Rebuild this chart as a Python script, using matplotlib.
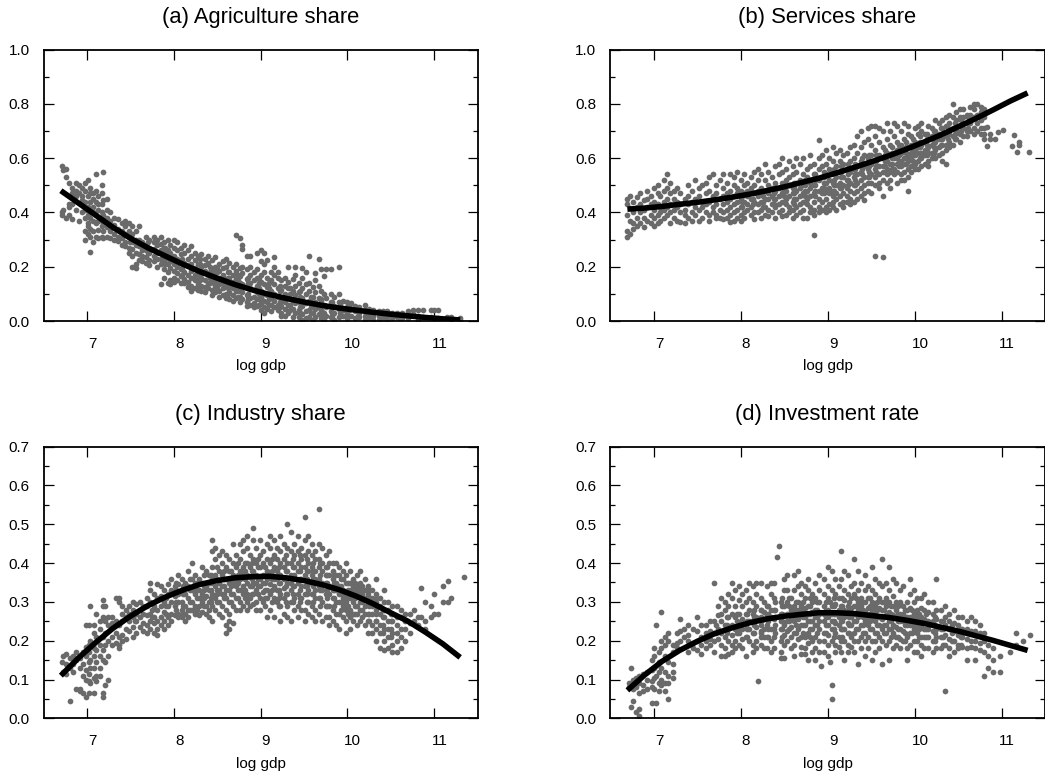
import matplotlib
matplotlib.use("Agg")
import matplotlib.pyplot as plt
from matplotlib.ticker import MultipleLocator
from matplotlib.transforms import ScaledTranslation

plt.rcParams['font.family'] = ['Liberation Sans', 'DejaVu Sans']

titles = ["(a) Agriculture share", "(b) Services share", "(c) Industry share", "(d) Investment rate"]
xticks = [7, 8, 9, 10, 11]
curve_x = [6.7, 6.9, 7.1, 7.3, 7.5, 7.7, 7.9, 8.1, 8.3, 8.5, 8.7, 8.9, 9.1, 9.3, 9.5, 9.7, 9.9, 10.1, 10.3, 10.5, 10.7, 10.9, 11.1, 11.3]
curve_a = [.48, .435, .39, .345, .305, .27, .24, .21, .182, .158, .135, .115, .098, .083, .07, .058, .048, .04, .032, .025, .019, .013, .008, .004]
curve_b = [.412, .416, .422, .43, .437, .446, .456, .467, .48, .494, .51, .526, .545, .565, .586, .608, .632, .658, .685, .715, .745, .777, .81, .84]
curve_c = [.11, .155, .195, .232, .263, .29, .312, .33, .345, .355, .362, .365, .366, .362, .355, .345, .332, .315, .295, .272, .25, .222, .192, .157]
curve_d = [.072, .112, .147, .175, .198, .218, .233, .246, .256, .263, .268, .272, .272, .27, .265, .26, .253, .245, .235, .225, .213, .201, .188, .175]

# observations: (log gdp, [shares in percent])
agri_pts = [
(6.71,[57,40,39]),(6.73,[55.5,41]),(6.76,[56,53,38]),(6.79,[51,43,42,39]),(6.83,[49,47,43,37.5]),(6.87,[51,48,46,41]),(6.91,[50,47,37]),(6.94,[49,46,44.5,40]),
(6.98,[51,48,44,41,38,33,30]),(7.01,[52,46,42,39,36,35,32]),(7.04,[49,47,44,38,34,31,25.5]),(7.07,[47,45,42,40,37,33,29]),(7.1,[54,48,44,39,36,31]),
(7.13,[46,43,41,37,33.5,30.5]),(7.17,[50,47,43,40,38,35,31]),(7.19,[55,44.5,39,36,33,30.5]),(7.23,[45,41,38,34.5,31]),(7.27,[40,37,33,30.5]),(7.31,[38,35.5,32,30]),
(7.36,[37.5,34,31,29.5]),(7.4,[36,33,30.5,28]),(7.44,[37,35,32,29,27.5]),(7.48,[36,33,31,27,25]),(7.52,[35,32,29,26.5,24,20]),(7.56,[33,30,28,25,21,19.5]),
(7.6,[35,30,27.5,24.5,22.5]),(7.64,[29,26,24,22]),(7.68,[31,28,26,23.5,21.5]),(7.72,[30,27,25,22.5,20.5]),(7.77,[31,29,26.5,24,22]),(7.81,[30,28,25,23,20]),
(7.85,[31,28.5,26,23,21,13.5]),(7.89,[29,27,24.5,22,19,16]),(7.93,[30,26,23.5,21,18,14]),(7.96,[28,25,22,19.5,15,13.5]),(8.0,[30,27,24,21,18.5,16,14.5]),
(8.04,[29,26,23,20,17.5,15]),(8.08,[27,24.5,22,19,16.5,14]),(8.12,[28,25,21.5,18,15.5,14]),(8.16,[26,23,20.5,17,14.5,12.5]),(8.2,[27.5,24,21,18.5,16,13,11]),
(8.24,[25,22.5,19.5,17,15,12]),(8.28,[24,21,18,15.5,13.5,11.5]),(8.32,[24.5,20,17.5,16,13,11]),(8.36,[23,20.5,18.5,15,12.5,10.5]),(8.4,[24,21.5,17,14,12]),
(8.44,[22.5,19,16.5,14.5,11.5,9.5]),(8.48,[23.5,20,18,15,13,10.5]),(8.52,[21,18.5,16,13.5,11,9]),(8.57,[22,19.5,17,14,12,9.5]),(8.6,[23,20,15.5,13,10,8.5]),
(8.64,[21.5,18,16,12.5,10.5,8]),(8.68,[20,17,14.5,12,9.5,7.5]),(8.72,[31.5,21,18.5,15.5,13,11,8.5]),(8.76,[30.5,19.5,16.5,14,11,9,7]),(8.79,[28,26.5,20,17.5,13.5,10.5,8]),
(8.84,[24,19,15.5,13,9.5,7,5.5]),(8.88,[24,20,17,14,12,8.5,6]),(8.92,[18,15,11.5,9,6.5,5]),(8.96,[25,19,16,13,10.5,8,5.5]),(9.0,[26,22,17,14.5,11,8.5,6.5,4]),
(9.04,[25,21,18,13.5,10,7.5,5,3]),(9.08,[22.5,16,12.5,9.5,7,4.5]),(9.12,[18,15,11,8.5,6,3.5]),(9.16,[23.5,20,17,13.5,10,7.5,5]),(9.2,[18,16,12,9,6,4]),
(9.24,[15,11.5,8,5.5,3,2]),(9.28,[16,13,10,7,4.5,2]),(9.32,[20,14.5,12,8.5,6,3]),(9.37,[15.5,11,7.5,4.5,1.5]),(9.4,[20,17,13,9.5,6.5,3]),(9.44,[14,10.5,7,4,1.5]),
(9.48,[19.5,16,12,8.5,5.5,2.5,.5]),(9.52,[18,13.5,10,6.5,3.5,1]),(9.56,[24,14,11,7.5,4,1.5]),(9.6,[12.5,9,6,3,.5]),(9.63,[17.5,15,10.5,7,4.5,1.5]),(9.67,[23,13,8.5,5,2.5]),
(9.7,[19,11,7.5,4,1]),(9.73,[16.5,10,6,3,.5]),(9.76,[19,8.5,5,2]),(9.81,[19,10,7,3.5,1.5]),(9.85,[9,5.5,3,.5]),(9.9,[20,10,7,4.5,1.5]),(9.95,[7.5,4,2]),
(10.0,[7,5,3,1]),(10.04,[6.5,4.5,2]),(10.09,[5.5,3.5,1]),(10.13,[5,3,1.5]),(10.2,[6,4,2,.5]),(10.25,[4.5,2.5,1]),(10.3,[4,2,.5]),(10.36,[3.5,2,.5]),
(10.41,[3.5,1.5]),(10.46,[3.5,2,.5]),(10.51,[3,1]),(10.57,[3,1.5]),(10.63,[3,1]),(10.7,[3.5,2,1]),(10.76,[4,2.5]),(10.82,[4,2,.5]),(10.87,[4,1.5]),
(10.96,[4,1.5]),(11.0,[4,1]),(11.04,[4,1]),(11.15,[1.5]),(11.2,[1.5,.5]),(11.3,[1,.5]),
]
agri_core = [
(7.5,[31,29]),(7.7,[29,27,25]),(7.9,[27,25,23,21]),(8.1,[23,21,19,17]),(8.3,[23,21,19,17,15,13]),(8.42,[20,18,16,14]),(8.5,[20,18,16,14,12]),(8.62,[18,16,14,12,10]),
(8.74,[17,15,13,11,9]),(8.86,[16,14,12,10,8]),(8.98,[16,14,12,10,8,6]),(9.1,[14,12,10,8,6]),(9.22,[13,11,9,7,5]),(9.34,[12,10,8,6,4]),(9.46,[11,9,7,5,3]),(9.58,[9,7,5,3]),
(9.7,[8,6,4,2]),(9.82,[7,5,3,2]),(9.92,[6,4,3]),(10.02,[5.5,4,2]),(10.12,[3.5,2]),(10.22,[3,1.5]),(10.4,[2.5,1]),(10.6,[2,1]),
]
serv_pts = [
(6.7,[45,43,39,33,31]),(6.73,[46,41.5,37,32]),(6.77,[44,40,36,34]),(6.81,[45.5,42,38,35]),(6.85,[47,43,40,36]),(6.89,[44.5,41,38,34.5]),(6.93,[48,45,42,37]),(6.97,[46,43,39,36]),
(7.01,[49,44,41,38,35]),(7.05,[50,47,43,39,36]),(7.08,[46,42,40,37]),(7.12,[52,48,44,41,38]),(7.15,[54,49,45,42,39]),(7.19,[51,47,43,40,36]),(7.23,[48,45,41,38]),
(7.27,[49,44,42,37]),(7.31,[47,43,40,36.5]),(7.36,[45,41,39,36]),(7.4,[50,46,43,38]),(7.44,[48,44,40,37]),(7.48,[52,45,42,39]),(7.52,[49,46,41,37]),(7.56,[50,44,42,38]),
(7.6,[51,47,43,40]),(7.64,[53,48,44,39,37]),(7.68,[54,46,42,40]),(7.72,[50,47,43,39,38]),(7.76,[52,45,41,38]),(7.8,[54,49,46,43,40,37.5]),(7.84,[51,47,44,41,38]),
(7.88,[54,48,45,42,39,36.5]),(7.92,[53,50,46,43,40,37]),(7.96,[55,49,47,44,41,38]),(8.0,[52,48,45,42,39,37]),(8.04,[54,50,47,44,40,38]),(8.08,[51,48,46,43,41]),
(8.12,[53,49,45,42,39]),(8.16,[55,50,47,44,40,37.5]),(8.2,[56,52,48,46,43,40]),(8.24,[54,49,47,44,41,38]),(8.28,[58,52,48,45,42,39]),(8.32,[55,50,47,45,41,38.5]),
(8.36,[53,49,46,43,40]),(8.4,[57,51,48,45,42,38]),(8.44,[58,54,49,46,43,40]),(8.48,[60,55,51,47,44,41,38.5]),(8.52,[56,52,48,45,43,39]),(8.56,[59,53,50,46,42,40]),
(8.6,[57,54,49,47,44,41,38]),(8.64,[60,55,51,48,45,42,39]),(8.68,[58,52,49,46,43,40]),(8.72,[60,54,50,47,44,41,38]),(8.76,[56,53,48,45,43,38]),(8.8,[61,57,51,49,46,42,40]),
(8.85,[58,54,50,47,44,41,39,31.5]),(8.9,[66.5,60,56,52,48,45,42,40]),(8.94,[61,57,53,49,47,44,41]),(8.98,[63,58,54,51,48,45,42,40]),(9.02,[60,56,52,49,47,43,41]),
(9.06,[64,59,55,51,48,46,44,42]),(9.1,[62,57,53,50,47,45,41]),(9.14,[63,59,55,51,49,46,43]),(9.18,[61,58,53,50,47,44,42]),(9.22,[62,56,52,49,46,44]),(9.26,[64,59,55,51,48,45,43]),
(9.3,[65,60,56,53,50,47,44]),(9.34,[68,62,57,54,51,48,45]),(9.38,[70,64,59,55,52,49,46]),(9.42,[66,61,57,53,50,47,44.5]),(9.46,[71,67,60,56,53,51,48]),(9.5,[72,65,61,58,54,51,47]),
(9.55,[72,68,63,59,56,53,50,24]),(9.59,[71,66,61,57,54,51,49]),(9.64,[70,64,60,57,55,52,46,23.5]),(9.68,[73,67,62,59,56,54,51]),(9.72,[70,65,61,58,55,52,49]),(9.76,[73,68,62,60,56,54]),
(9.8,[72,66,63,60,58,55,51]),(9.84,[70,65,62,59,57,54,52]),(9.88,[73,67,63,60,58,55,52]),(9.92,[72,69,64,61,59,56,53,48]),(9.96,[68,65,62,60,57,55]),(10.0,[71,66,63,61,58,56]),
(10.04,[72,69,64,62,59,56]),(10.08,[73,70,65,62,60,57]),(10.12,[69,66,63,61,58]),(10.16,[72,67,64,62,59,57]),(10.2,[71,68,65,62,60]),(10.24,[74,70,66,63,60]),(10.28,[73,69,67,64,61]),
(10.32,[74,71,67,65,62,59]),(10.36,[75,72,68,65,63,58]),(10.4,[76,73,69,66,64]),(10.44,[80,75,71,68,65]),(10.48,[77,74,70,67]),(10.52,[78,75,72,69,66]),(10.56,[78,75,71,68]),
(10.6,[76,73,70,68]),(10.64,[79,76,73,70]),(10.68,[80,78,75,71,69]),(10.72,[80,76,73,70]),(10.76,[79,77,74,71,69]),(10.8,[78,75,71,69,67]),(10.83,[71.5,64.5]),
(10.87,[69,67]),(10.93,[67]),(10.96,[69.5]),(11.02,[70.5]),(11.12,[64.3]),(11.14,[68.4]),(11.18,[62.3]),(11.2,[66,65]),(11.32,[62.3]),
]
serv_core = [
(8.02,[46,44,42]),(8.14,[47,45,43]),(8.26,[48,46,44,42]),(8.38,[49,47,45,43]),(8.5,[50,48,46,44]),(8.62,[51,49,47,45,43]),(8.74,[52,50,48,46,44]),(8.86,[54,52,50,48,46]),
(8.96,[55,53,51,49,47]),(9.08,[56,54,52,50,48]),(9.16,[57,55,53,49]),(9.24,[58,56,54,52,50]),(9.32,[58,56,54,52,50]),(9.4,[60,58,56,54]),(9.48,[61,59,57,55,53]),(9.56,[61,59,57,55]),
(9.66,[63,61,59,57,55]),(9.74,[64,62,60,58,56]),(9.82,[65,63,61,59,57]),(9.9,[66,64,62,60,58]),(9.98,[67,65,63,61,59]),(10.06,[68,66,64,62,60]),(10.14,[69,67,65,63,61]),
(10.22,[70,68,66,64,62]),(10.3,[71,69,67,65]),(10.38,[71,69,67,65]),(10.46,[73,71,69,67]),(10.54,[74,72,70]),(10.62,[75,73,71]),
]
indu_pts = [
(6.71,[14.5]),(6.73,[16,12]),(6.76,[16.5,14,11.5]),(6.8,[15.5,13,4.5]),(6.84,[16,14,12]),(6.88,[17,15,7.5]),(6.92,[15.5,13,7,7.5]),(6.96,[17,14,11,6.5]),(6.99,[24,18.5,16,12.5,10,5.5]),
(7.02,[24,19,17,14.5,11.5,9.5,6.5]),(7.04,[29,20,15,13,9]),(7.08,[24,22,18,16,13,10.5,6.5]),(7.11,[27,21,17.5,14.5,11,9.5]),(7.15,[25,23,19,16,13,11]),(7.18,[30.5,29,26,21,17.5,15,6.5,5.5]),
(7.21,[29,25,22,19,14.5,8.5]),(7.24,[26,24,20,16,10]),(7.29,[26,24.5,21,19]),(7.33,[31,25,22,19.5]),(7.37,[31,30,24,21,19,18]),(7.41,[29,27,25,21.5,20]),(7.45,[28,26,23,20.5]),
(7.49,[29,27,25,22.5]),(7.53,[30,28,26,23.5,21]),(7.57,[29.5,27,25,22]),(7.61,[30,28,26,23.5]),(7.65,[29,27,24.5,22.5]),(7.69,[31,29,26.5,24,22]),(7.73,[35,33,30,27,25,23]),
(7.77,[32,29,26,24.5,22]),(7.81,[34.5,31,28,25,23,21.5]),(7.85,[34,31.5,29,26,24]),(7.89,[33,30,27.5,25,23]),(7.93,[34.5,32,29,26,24]),(7.97,[36,33,30,27,25]),
(8.01,[34,31.5,29,26.5]),(8.05,[37,34.5,32,30,27,26]),(8.09,[36,33,30,28,26]),(8.13,[35,32,29,27,25]),(8.17,[38,34,31,28,26]),(8.21,[40,36,33,30,28]),(8.25,[37,35,32,29,27]),
(8.29,[36,33,31,29,26.5]),(8.33,[39,35,32,30,27.5]),(8.37,[38,34,31.5,29,27]),(8.41,[37,35,33,30,28,26]),(8.44,[46,43,39,36,32,29,25]),(8.48,[44,41,37,34,31,28]),
(8.52,[42,38,35,33,30,27]),(8.56,[43,40,37,34,32,29,26]),(8.6,[42,39,36,33,31,28,24,22]),(8.64,[41,38,35,33,30,27,25,23]),(8.68,[45,40,37,35,32,29,24.5]),
(8.72,[42,39,36,34,31,28]),(8.76,[45,41,38,36,33,30,28]),(8.8,[46,43,39,37,34,32,29]),(8.84,[47,44,40,37,35,32,30,28]),(8.88,[42,39,36.5,34,31,29]),(8.91,[49,46,41,38,35,32,29.5]),
(8.95,[44,40,37,35,33,30,28]),(8.99,[46,42,39,36,34,31,28]),(9.03,[43,40,37,35,32.5,30]),(9.07,[45,41,38,36,33,31,26]),(9.11,[47,44,40,37,34.5,32,28]),(9.15,[46,42,39,36,34,31,26]),
(9.19,[44,41,38,36,33,30]),(9.23,[47,43,40,37,35,32,29,25]),(9.27,[45,41,39,36,33.5,31,27]),(9.31,[50,44,40,38,35,32,29,26]),(9.35,[48,43,40,37,35,33,30,25]),
(9.39,[45,42,39,37,34,31,28]),(9.43,[47,43,40,38,35,32,29,26]),(9.47,[44,41,39,36,34,31,28]),(9.51,[52,46,42,39,37,34,32,28,25]),(9.55,[47,43,40,38,35,33,30,27]),
(9.59,[45,42,39,37,35,32,29,26]),(9.63,[43,41,38,36,33,31,28,25]),(9.67,[54,45,41,39,36,34,31,27]),(9.71,[44,40,38,35,33,30,25]),(9.75,[42,39,37,35,32,29,26]),
(9.79,[43,40,37,34,32,29,26,24]),(9.83,[40,38,36,33,31,28,25]),(9.87,[40,37,35,33,30,27,24]),(9.91,[39,37,34,32,30,27,23]),(9.95,[38,36,33,31,29,26]),(9.99,[40,37,35,32,30,28,25,22]),
(10.03,[38,35,33,31,28,26,23]),(10.07,[36,34,32,30,27,25]),(10.11,[37,34,32,29,27,24]),(10.15,[38,35,33,30,28,25]),(10.2,[36,33,31,29,27,24]),(10.24,[34,32,30,27,25,22]),
(10.28,[33,31,29,27,24,22]),(10.33,[36,32,30,28,25,23,20]),(10.38,[31,29,27,24,22,18]),(10.42,[33,30,28,26,23,20,17.5]),(10.47,[30,28,25,23,21,18]),(10.52,[29,27,25,22,19,17]),
(10.57,[29,26,24,22,20,17]),(10.62,[28,26,23,21,18]),(10.66,[27,25,23,20]),(10.72,[27,24.5,22]),(10.77,[28,25]),(10.82,[26,24]),(10.85,[33.5,26]),(10.9,[30,25,23]),
(10.96,[29,26]),(11.0,[32,27]),(11.05,[27]),(11.1,[34,30]),(11.16,[35.5,30]),(11.2,[31]),(11.34,[36.5]),
]
indu_core = [
(7.55,[27,25]),(7.75,[28,26]),(7.91,[31,29,27]),(8.03,[35,33,30,28]),(8.11,[34,32,29,27]),(8.19,[36,33,30,28]),(8.27,[35,33,31,28]),(8.35,[37,34,33,31,29]),(8.43,[37,35,33,31,30]),
(8.5,[39,36,33,32,30]),(8.58,[38,36,34,32,31]),(8.66,[38,36,34,32,30]),(8.74,[40,37,35,33,31]),(8.82,[40,38,36,33,31]),(8.9,[40,38,36,34,32]),(8.97,[41,39,36,34,32]),
(9.05,[39,37,35,33,31,29]),(9.13,[41,38,36,33,30]),(9.21,[39,37,35,33,31,29]),(9.29,[42,38,36,34,32,30]),(9.37,[41,39,36,34,32,30]),(9.45,[42,38,36,33,31,30]),(9.53,[41,38,36,34,32,30]),
(9.61,[40,38,36,34,32,30]),(9.69,[40,37,35,33,31,29]),(9.77,[39,37,35,33,31,29]),(9.85,[37,35,33,31,29]),(9.93,[36,34,32,30,28]),(10.01,[35,33,31,29,27]),(10.09,[35,33,31,29,27]),
(10.17,[34,32,30,28,26]),(10.25,[33,31,29,27,25]),(10.33,[31,29,27,25]),(10.41,[28,26,24,22]),(10.5,[27,25,23,21]),
]
inve_pts = [
(6.72,[9,8]),(6.74,[13,3]),(6.77,[10,7.5,4.5]),(6.8,[10.5,8,1.5]),(6.83,[11,9,6.5,2.5,.5]),(6.88,[11.5,8.5,7]),(6.93,[12,10,7.5]),(6.98,[15,12.5,9.5,8,4]),
(7.01,[18,16,13,10.5,7.5]),(7.03,[24,11,4]),(7.06,[17,14.5,12,9,7]),(7.09,[27.5,20,18,13,10,8.5]),(7.13,[21,19,16,12,9,7]),(7.17,[22,20,14.5,11,9,5]),
(7.22,[19,17,14,12,10.5]),(7.27,[22,19.5,18]),(7.3,[25.5,22.5,20]),(7.35,[23,21]),(7.4,[24,21.5,20,17]),(7.45,[23,19.5,18]),(7.5,[26,22.5,20,17.5]),(7.55,[24,21,19,16.5]),
(7.6,[24,22,20,18]),(7.65,[25,22.5,20.5,19]),(7.7,[35,25,22,20,17]),(7.74,[29,26.5,23,20.5]),(7.78,[31,27,25,22,19,16]),(7.82,[30,28,24,21,18,16]),(7.86,[32,29,26,23,20,16.5]),
(7.9,[35,31,27,24,21.5,19,17]),(7.94,[33,29,26,23,20,18]),(7.98,[34,30.5,27,24.5,22,19]),(8.02,[32,29,25.5,23,20.5,18]),(8.06,[33,30,27,24,21,16]),(8.1,[35,31,28,25,23,20]),
(8.14,[34,30,27,25,22,19,17]),(8.18,[35,32,29,26,23.5,20,18]),(8.2,[9.5]),(8.23,[35,31,28,25,22.5,19]),(8.27,[30,27.5,25.5,23,21,18]),(8.31,[34,29,26.5,24,21,18]),
(8.35,[35,32,28,26,23,20,17]),(8.39,[35,31,28,25.5,23,21,18]),(8.42,[41.5]),(8.44,[44.5]),(8.46,[30,27,25,23,20,17,15.5]),(8.5,[36,33,29,26.5,24,21.5,19,15.5]),
(8.54,[37,33,30,27,25,22.5,20]),(8.58,[31,28,26,23.5,21,18]),(8.62,[37,33,29,27,25,22,19,16]),(8.66,[38,34,30,28,25.5,23,20.5]),(8.7,[35,32,29,26.5,24,21,18.5,16.5]),
(8.74,[34,31,28.5,26,24,21,18,16.5]),(8.78,[36,33,29,27,25,22,19.5,15]),(8.82,[32,30,27.5,25,23,20,17]),(8.86,[35,31,28,26,24,21,18,15]),(8.9,[37,33,30,27,25,23,20,17]),
(8.93,[13.5]),(8.96,[36,32,29,27,25,22,20,17]),(9.0,[39,34,31,28,26,24,21.5,19,16]),(9.03,[14.5,30]),(9.05,[38,33,29,27,25,23,20,8.5,5]),(9.09,[36,32,29.5,27,24.5,22,19,17]),
(9.13,[34,31,28,26,24,21,18.5]),(9.15,[43,36,29,25,23,20,17]),(9.19,[38,33,30.5,28,26,23,20,15]),(9.23,[37,32,29,27,24.5,22,19,17]),(9.27,[34,31,28.5,26,24,21,18.5]),
(9.31,[41,35,32,29,27,25,22,20,17]),(9.35,[38,33,30,28,26,23,20,14]),(9.39,[35,31,29,27,24,21,18]),(9.43,[37,33,30,27.5,25,22,20,16]),(9.47,[34,31,28.5,26,24,21,18]),
(9.51,[39,33,30,28,26,23,20,15]),(9.55,[36,32,29,27,25,22,20,17]),(9.59,[35,31,28.5,26,24,21,18]),(9.63,[41,34,30,28,25.5,23,20,14]),(9.67,[35,31,29,26.5,24,22,19]),
(9.71,[39,33,30,27.5,25,23,20,15]),(9.75,[36,31.5,29,26.5,24,22,18]),(9.79,[35,30,28,26,23.5,21,19]),(9.83,[33,30,27,25,23,20.5,18]),(9.87,[34,29,27,25,22.5,20]),
(9.91,[30,28,26,24,21,18,15]),(9.95,[36,32,28.5,26,24,22,19]),(9.99,[33,30,27,25,23,20,17]),(10.03,[31,28,26,24,22,20,17]),(10.07,[31,28.5,26,23.5,21,19,16]),
(10.11,[32,28,25.5,23,21,18]),(10.16,[30,27.5,25,23,21,18]),(10.21,[30,27,25,22.5,20,17]),(10.25,[36,28,25.5,23,21,18]),(10.3,[28,25,23,21,18]),(10.35,[29,26,24,21.5,19,7]),
(10.4,[27,25,23,20.5,18,16]),(10.45,[28,24.5,22.5,20,17]),(10.5,[26,24,21.5,19,18]),(10.55,[26,23,21,18.5]),(10.6,[25,23,20.5,18,15]),(10.65,[26,22.5,20,18.5]),
(10.7,[25,22.5,20,18,15]),(10.75,[24,22,19.5,17.5]),(10.8,[22,20,17,11]),(10.85,[19,16,13]),(10.9,[18,15,12]),(10.98,[16,12]),(11.1,[17]),(11.17,[19,22]),(11.25,[20]),(11.33,[21.5]),
]
inve_core = [
(7.72,[24,22]),(7.84,[26,24,22]),(7.96,[27,25,23,22]),(8.08,[27,25,23,21]),(8.16,[28,26,24,22]),(8.24,[28,26,24,22,21]),(8.32,[29,27,25,23,21]),(8.4,[30,28,26,24,22]),
(8.48,[31,29,27,25,23,21]),(8.56,[31,29,27,25,23]),(8.64,[30,28,26,24,22]),(8.72,[30,28,26,24,22]),(8.8,[31,29,27,25,23,21]),(8.88,[30,28,26,24,22]),(8.98,[30,28,26,24,22]),
(9.07,[31,29,27,25,23,21]),(9.17,[31,29,27,25,23,21]),(9.25,[30,28,26,24,22]),(9.33,[31,29,27,25,23]),(9.41,[30,28,26,24,22]),(9.49,[31,29,27,25,23]),(9.57,[30,28,26,24,22]),
(9.65,[30,28,26,24,22]),(9.73,[29,27,25,23,21]),(9.81,[29,27,25,23,21]),(9.89,[28,26,24,22,20]),(9.97,[28,26,24,22]),(10.05,[27,25,23,21]),(10.13,[27,25,23,21]),
(10.23,[26,24,22,20]),(10.33,[25,23,21,19]),(10.43,[24,22,20]),(10.53,[23,21,19]),
]

W, H = 1045, 774
DPI = 100
GRAY = "#6a6a6a"
boxes = [(43.5, 49.5, 434, 271.5), (610, 49.5, 435, 271.5), (43.5, 446.7, 434, 271.6), (610, 446.7, 435, 271.6)]
panels = [(agri_pts + agri_core, curve_a, 1.0, .2, .1), (serv_pts + serv_core, curve_b, 1.0, .2, .1),
          (indu_pts + indu_core, curve_c, .7, .1, .05), (inve_pts + inve_core, curve_d, .7, .1, .05)]

fig = plt.figure(figsize=(W / DPI, H / DPI), dpi=DPI)
shift = ScaledTranslation(5.5 / DPI, 0, fig.dpi_scale_trans)
for (l, t, w, h), (pts, curve, ymax, major, minor), title in zip(boxes, panels, titles):
    ax = fig.add_axes([l / W, 1 - (t + h) / H, w / W, h / H])
    xs = [x for x, ys in pts for _ in ys]
    ys = [y / 100 for _, yy in pts for y in yy]
    ax.scatter(xs, ys, s=17, color=GRAY, linewidths=0, zorder=2)
    ax.plot(curve_x, curve, color="black", lw=4, solid_capstyle="butt", solid_joinstyle="round", zorder=3)
    ax.set_xlim(6.5, 11.5)
    ax.set_ylim(0, ymax)
    ax.set_xticks(xticks)
    ax.yaxis.set_major_locator(MultipleLocator(major))
    ax.yaxis.set_minor_locator(MultipleLocator(minor))
    ax.yaxis.set_major_formatter(lambda v, p: f"{v:.1f}")
    ax.tick_params(axis="both", which="major", direction="in", length=7.2, width=0.9, top=True, right=True, labelsize=11)
    ax.tick_params(axis="y", which="minor", direction="in", length=3.6, width=0.9, right=True)
    ax.tick_params(axis="x", which="major", pad=11.5)
    ax.tick_params(axis="y", which="major", pad=10)
    for lab in ax.get_xticklabels():
        lab.set_transform(lab.get_transform() + shift)
    for sp in ax.spines.values():
        sp.set_linewidth(1.3)
    ax.set_xlabel("log gdp", fontsize=11, labelpad=6)
    ax.set_title(title, fontsize=15.8, pad=19)
fig.savefig("out.png", dpi=DPI)
